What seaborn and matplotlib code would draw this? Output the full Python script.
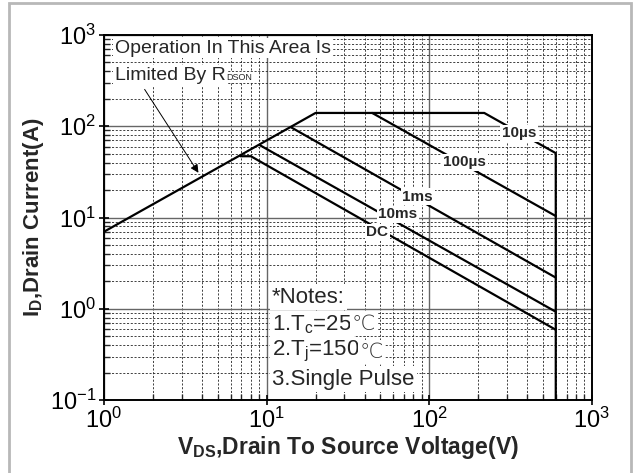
import matplotlib
matplotlib.use("Agg")
import matplotlib.pyplot as plt
import seaborn as sns
from matplotlib.patches import Rectangle
from matplotlib.ticker import LogLocator, NullFormatter

# safe operating area curves (VDS in V, ID in A)
env_v = [1, 20, 218, 600, 600]          # RDSon limit + 10us
env_i = [7, 140, 140, 50.8, 0.1]
us100_v = [44.6, 600]
us100_i = [140, 10.4]
ms1_v = [14.2, 600]
ms1_i = [97, 2.2]
ms10_v = [9.1, 600]
ms10_i = [62, 0.93]
dc_v = [6.9, 8.0, 600]
dc_i = [47, 47, 0.59]

curve_labels = ["10µs", "100µs", "1ms", "10ms", "DC"]
label_v = [356, 165, 85, 64, 48]
label_i = [84, 40.5, 17, 10.9, 6.9]

notes = ["*Notes:", "1.T$_\\mathrm{c}$=25", "2.T$_\\mathrm{j}$=150", "3.Single Pulse"]
notes_unit = ["", "℃", "℃", ""]

sns.set_style("white")
plt.rcParams["font.family"] = ["Liberation Sans", "DejaVu Sans"]
plt.rcParams["mathtext.fontset"] = "custom"
plt.rcParams["mathtext.rm"] = "Liberation Sans"
plt.rcParams["mathtext.bf"] = "Liberation Sans:bold"

fig = plt.figure(figsize=(6.44, 4.73), dpi=100)
ax = fig.add_axes([0.1615, 0.154, 0.7575, 0.772])
ax.set_xscale("log")
ax.set_yscale("log")

for v, i in [(env_v, env_i), (us100_v, us100_i), (ms1_v, ms1_i),
             (ms10_v, ms10_i), (dc_v, dc_i)]:
    sns.lineplot(x=v, y=i, sort=False, estimator=None, color="black", lw=1.6,
                 ax=ax, zorder=3)

ax.set_xlim(1, 1000)
ax.set_ylim(0.1, 1000)

ax.xaxis.set_major_locator(LogLocator(base=10, numticks=10))
ax.yaxis.set_major_locator(LogLocator(base=10, numticks=10))
ax.xaxis.set_minor_locator(LogLocator(base=10, subs=range(2, 10), numticks=20))
ax.yaxis.set_minor_locator(LogLocator(base=10, subs=range(2, 10), numticks=20))
ax.xaxis.set_minor_formatter(NullFormatter())
ax.yaxis.set_minor_formatter(NullFormatter())

ax.grid(True, which="major", color="#666666", lw=1.0, ls="-", zorder=1)
ax.grid(True, which="minor", color="#222222", lw=0.6, ls=(0, (2.5, 2)), zorder=1)

ax.tick_params(which="major", direction="inout", length=7, width=1.2, labelsize=17,
               colors="black", left=True, bottom=True, pad=2)
ax.tick_params(which="minor", direction="in", length=4, width=1, left=True, bottom=True)
for s in ax.spines.values():
    s.set_color("black")
    s.set_linewidth(1.4)

ax.set_xlabel("V$_\\mathbf{DS}$,Drain To Source Voltage(V)", fontsize=16.5,
              fontweight="bold", labelpad=1)
ax.set_ylabel("I$_\\mathbf{D}$,Drain Current(A)", fontsize=16,
              fontweight="bold", labelpad=3)

box = dict(boxstyle="square,pad=0.1", fc="white", ec="none")
for lab, v, i in zip(curve_labels, label_v, label_i):
    ax.text(v, i, lab, fontsize=11, fontweight="bold", ha="center", va="center",
            bbox=box, zorder=4)

ax.text(1.17, 720, "Operation In This Area Is", fontsize=14, ha="left", va="center",
        bbox=box, zorder=4)
lim = ax.text(1.17, 360, "Limited By R", fontsize=14, ha="left",
              va="center", bbox=box, zorder=4)
ax.annotate("DSON", xy=(1, 0.12), xycoords=lim, fontsize=6.5, ha="left",
            va="bottom", bbox=box, zorder=4)
ax.annotate("", xy=(3.89, 29.2), xytext=(1.74, 269),
            arrowprops=dict(arrowstyle="-|>", color="black", lw=0.7,
                            mutation_scale=12), zorder=4)

for k, (t, u) in enumerate(zip(notes, notes_unit)):
    nt = ax.text(10.8, 10 ** (0.13 - 0.3 * k), t, fontsize=16, ha="left",
                 va="center", bbox=box, zorder=4)
    if u:
        ax.annotate(u, xy=(1, 0.5), xycoords=nt, fontsize=15, ha="left", va="center",
                    family="DejaVu Sans", fontweight="light", color="#333333",
                    bbox=box, zorder=4)

fig.patches.append(Rectangle((9 / 644, -0.02), 622 / 644, 1.013, transform=fig.transFigure,
                             fill=False, ec="#b8b8b8", lw=2))

fig.savefig("out.png", dpi=100)
